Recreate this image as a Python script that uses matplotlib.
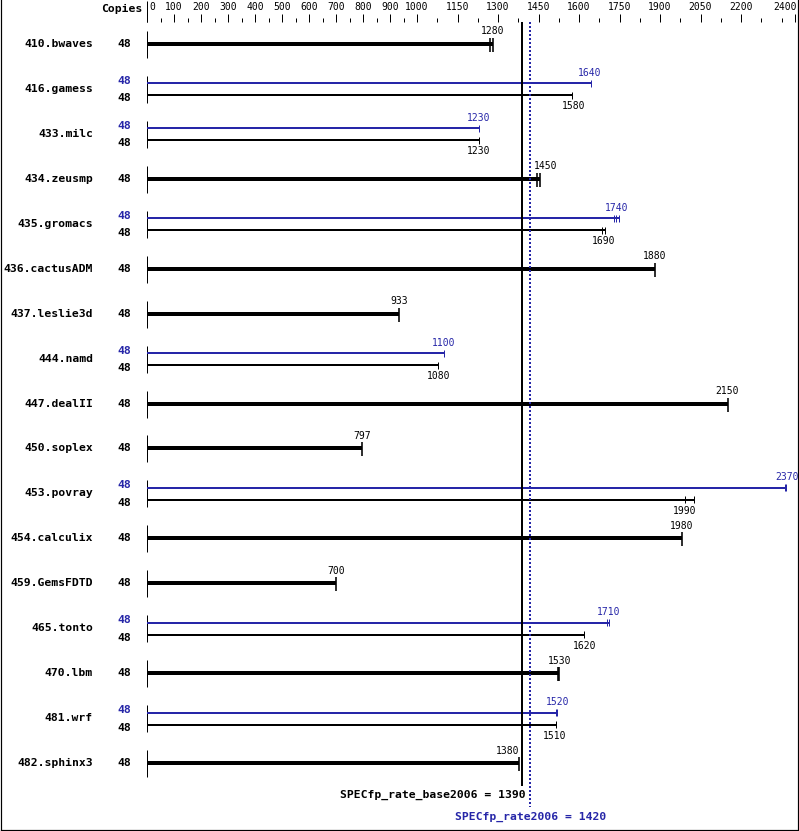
import matplotlib
matplotlib.use("Agg")
import matplotlib.pyplot as plt
from matplotlib.lines import Line2D

# ---------------- data ----------------
benchmarks = ["410.bwaves", "416.gamess", "433.milc", "434.zeusmp", "435.gromacs",
              "436.cactusADM", "437.leslie3d", "444.namd", "447.dealII", "450.soplex",
              "453.povray", "454.calculix", "459.GemsFDTD", "465.tonto", "470.lbm",
              "481.wrf", "482.sphinx3"]
copies_base = [48] * 17
copies_peak = [None, 48, 48, None, 48, None, None, 48, None, None, 48, None, None, 48, None, 48, None]
base_labels = [1280, 1580, 1230, 1450, 1690, 1880, 933, 1080, 2150, 797,
               1990, 1980, 700, 1620, 1530, 1510, 1380]
peak_labels = [None, 1640, 1230, None, 1740, None, None, 1100, None, None,
               2370, None, None, 1710, None, 1520, None]
base_runs = [[1270, 1280], [1575], [1231], [1443, 1456], [1686, 1696], [1880], [933],
             [1076], [2152], [797], [1993, 2026], [1980], [700], [1617], [1521, 1527],
             [1515], [1379]]
peak_runs = [None, [1644], [1231], None, [1731, 1738, 1747], None, None, [1100], None, None,
             [2363, 2368], None, None, [1705, 1712], None, [1514, 1519], None]
major_ticks = [0, 100, 200, 300, 400, 500, 600, 700, 800, 900, 1000,
               1150, 1300, 1450, 1600, 1750, 1900, 2050, 2200, 2400]
minor_ticks = [50, 150, 250, 350, 450, 550, 650, 750, 850, 950,
               1075, 1225, 1375, 1525, 1675, 1825, 1975, 2125, 2275, 2350]
base_score = 1390
peak_score = 1420
base_score_label = "SPECfp_rate_base2006 = 1390"
peak_score_label = "SPECfp_rate2006 = 1420"

# ---------------- layout ----------------
W, H = 799, 831
X0, K = 147.0, 0.27          # pixel of value 0, pixels per unit
ROW0, ROWSTEP = 44.0, 44.94
BLUE = "#2626a8"
PX = 0.72                     # points per pixel at dpi 100


def px2v(px):
    return (px - X0) / K


def v2px(v):
    return X0 + v * K


fig = plt.figure(figsize=(W / 100, H / 100), dpi=100)
ax = fig.add_axes([0, 0, 1, 1])
ax.set_xlim(px2v(0), px2v(W))
ax.set_ylim(H, 0)
ax.axis("off")

mono = "DejaVu Sans Mono"
fs_name = 8.2
fs_val = 7.0

# frame
for xs, ys in [([px2v(0.5), px2v(0.5)], [0, 830]),
               ([px2v(798.5), px2v(798.5)], [0, 830]),
               ([px2v(0.5), px2v(798.5)], [829.5, 829.5])]:
    ax.add_line(Line2D(xs, ys, color="black", lw=1.2 * PX))

# top scale
ax.text(px2v(142), 9, "Copies", ha="right", va="center", fontsize=fs_name,
        family=mono, fontweight="bold")
ax.vlines([0], 1, 22, color="black", lw=1 * PX)
ax.vlines(major_ticks, 14, 22, color="black", lw=1 * PX)
ax.vlines(minor_ticks, 18, 22, color="black", lw=1 * PX)
for t in major_ticks:
    if t == 0:
        ax.text(px2v(149), 7, str(t), ha="left", va="center", fontsize=fs_val, family=mono)
    elif t == major_ticks[-1]:
        ax.text(px2v(797), 7, str(t), ha="right", va="center", fontsize=fs_val, family=mono)
    else:
        ax.text(t, 7, str(t), ha="center", va="center", fontsize=fs_val, family=mono)

line_px = v2px(base_score)

# rows
for i, name in enumerate(benchmarks):
    yc = ROW0 + ROWSTEP * i
    ax.vlines([0], yc - 13, yc + 14, color="black", lw=1 * PX)
    ax.text(px2v(93), yc, name, ha="right", va="center", fontsize=fs_name,
            family=mono, fontweight="bold")
    if peak_runs[i] is None:
        runs = base_runs[i]
        end = max(runs)
        ax.hlines(yc, 0, end, color="black", lw=4 * PX)
        ax.vlines(runs, yc - 6, yc + 8, color="black", lw=1.6 * PX)
        ax.text(px2v(124.5), yc, str(copies_base[i]), ha="center", va="center",
                fontsize=fs_name, family=mono, fontweight="bold")
        lab = base_labels[i]
        cap_px = v2px(end)
        if abs(cap_px - line_px) < 25:
            if lab < base_score:
                ax.text(px2v(cap_px), yc - 12.5, str(lab), ha="right", va="center",
                        fontsize=fs_val, family=mono)
            else:
                ax.text(px2v(cap_px - 6), yc - 12.5, str(lab), ha="left", va="center",
                        fontsize=fs_val, family=mono)
        else:
            ax.text(lab, yc - 12.5, str(lab), ha="center", va="center",
                    fontsize=fs_val, family=mono)
    else:
        yb, yk = yc - 5.5, yc + 6.5
        pr = peak_runs[i]
        ax.hlines(yb, 0, max(pr), color=BLUE, lw=2 * PX)
        ax.vlines(pr, yb - 3.5, yb + 3.5, color=BLUE, lw=1 * PX)
        ax.text(peak_labels[i], yb - 10.5, str(peak_labels[i]), ha="center",
                va="center", fontsize=fs_val, family=mono, color=BLUE)
        ax.text(px2v(124.5), yb - 2.5, str(copies_peak[i]), ha="center", va="center",
                fontsize=fs_name, family=mono, fontweight="bold", color=BLUE)
        br = base_runs[i]
        ax.hlines(yk, 0, max(br), color="black", lw=2 * PX)
        ax.vlines(br, yk - 3.5, yk + 3.5, color="black", lw=1 * PX)
        ax.text(base_labels[i], yk + 11, str(base_labels[i]), ha="center",
                va="center", fontsize=fs_val, family=mono)
        ax.text(px2v(124.5), yk + 3, str(copies_base[i]), ha="center", va="center",
                fontsize=fs_name, family=mono, fontweight="bold")

# score lines
ax.vlines([base_score], 22, 786, color="black", lw=2 * PX)
ax.add_line(Line2D([peak_score, peak_score], [22, 807], color=BLUE, lw=2 * PX,
                   linestyle=(0, (1, 1))))
ax.text(px2v(line_px + 3), 795, base_score_label, ha="right", va="center",
        fontsize=fs_name, family=mono, fontweight="bold")
ax.text(peak_score, 817, peak_score_label, ha="center", va="center",
        fontsize=fs_name, family=mono, fontweight="bold", color=BLUE)

fig.savefig("out.png", dpi=100)
